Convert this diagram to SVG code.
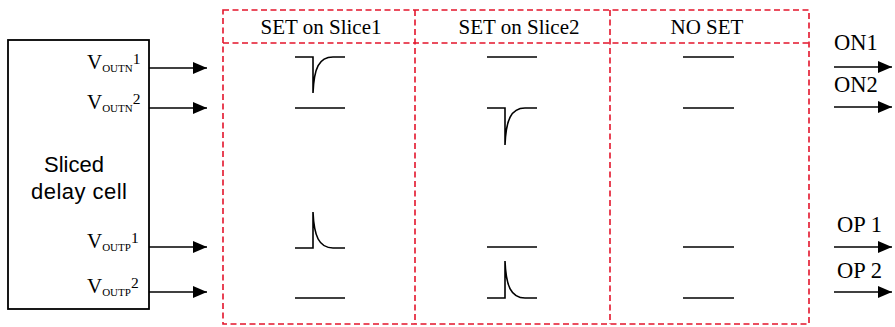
<svg xmlns="http://www.w3.org/2000/svg" width="895" height="327" viewBox="0 0 895 327">
<defs>
<marker id="ah" markerWidth="15" markerHeight="13" refX="14" refY="6" orient="auto" markerUnits="userSpaceOnUse">
<path d="M0,0 L14,6 L0,12 Z" fill="#000"/>
</marker>
<style>
.serif{font-family:"Liberation Serif","Times New Roman",serif;fill:#000}
.sans{font-family:"Liberation Sans",Arial,sans-serif;fill:#000}
.hdr{font-size:21px;text-anchor:middle}
.dash{fill:none;stroke:#e3152b;stroke-width:1.6;stroke-dasharray:6,3.5}
.wave{fill:none;stroke:#000;stroke-width:1.6}
.conn{fill:none;stroke:#000;stroke-width:1.5;marker-end:url(#ah)}
.v{font-size:21px}
.sub{font-size:11px}
.sup{font-size:15.5px}
.out{font-size:22.5px}
</style>
</defs>

<g id="delay_cell">
<rect x="8" y="40" width="141" height="269" fill="#fff" stroke="#000" stroke-width="1.8"/>
<text class="sans" font-size="22" x="44" y="172">Sliced</text>
<text class="sans" font-size="22" x="31" y="199" textLength="96">delay cell</text>
<text class="serif v" x="87" y="69">V<tspan class="sub" dy="3">OUTN</tspan><tspan class="sup" dy="-8">1</tspan></text>
<text class="serif v" x="87" y="109">V<tspan class="sub" dy="3">OUTN</tspan><tspan class="sup" dy="-8">2</tspan></text>
<text class="serif v" x="87" y="248">V<tspan class="sub" dy="3">OUTP</tspan><tspan class="sup" dy="-8">1</tspan></text>
<text class="serif v" x="87" y="293">V<tspan class="sub" dy="3">OUTP</tspan><tspan class="sup" dy="-8">2</tspan></text>
</g>

<g id="table">
<rect class="dash" x="223" y="10" width="586" height="314"/>
<line class="dash" x1="223" y1="43" x2="809" y2="43"/>
<line class="dash" x1="415" y1="10" x2="415" y2="324"/>
<line class="dash" x1="610" y1="10" x2="610" y2="324"/>
<text class="serif hdr" x="321" y="34">SET on Slice1</text>
<text class="serif hdr" x="519" y="34">SET on Slice2</text>
<text class="serif hdr" x="707" y="34">NO SET</text>
</g>

<g id="col_slice1">
<path class="wave" d="M295,57 H313 V93 M313,93 C314,68 319,57 333,57 H345"/>
<path class="wave" d="M295,108 H345"/>
<path class="wave" d="M295,248 H313 V212 M313,212 C314,236 319,248 333,248 H345"/>
<path class="wave" d="M295,298 H345"/>
</g>

<g id="col_slice2">
<path class="wave" d="M487,57 H537"/>
<path class="wave" d="M487,108 H505 V145 M505,145 C506,120 511,108 525,108 H537"/>
<path class="wave" d="M487,247 H537"/>
<path class="wave" d="M487,298 H505 V261 M505,261 C506,286 511,298 525,298 H537"/>
</g>

<g id="col_noset">
<path class="wave" d="M683,57 H734"/>
<path class="wave" d="M683,108 H734"/>
<path class="wave" d="M683,247 H734"/>
<path class="wave" d="M683,298 H734"/>
</g>

<g id="outputs">
<text class="serif out" x="834" y="50">ON1</text>
<text class="serif out" x="834" y="92">ON2</text>
<text class="serif out" x="837" y="232" textLength="45">OP 1</text>
<text class="serif out" x="837" y="278" textLength="45">OP 2</text>
</g>

<g id="connectors">
<line class="conn" x1="149" y1="68" x2="207" y2="68"/>
<line class="conn" x1="149" y1="108" x2="207" y2="108"/>
<line class="conn" x1="149" y1="247" x2="207" y2="247"/>
<line class="conn" x1="149" y1="292" x2="207" y2="292"/>
<line class="conn" x1="834" y1="67" x2="892" y2="67"/>
<line class="conn" x1="834" y1="107" x2="892" y2="107"/>
<line class="conn" x1="834" y1="247" x2="892" y2="247"/>
<line class="conn" x1="834" y1="292" x2="892" y2="292"/>
</g>
</svg>
